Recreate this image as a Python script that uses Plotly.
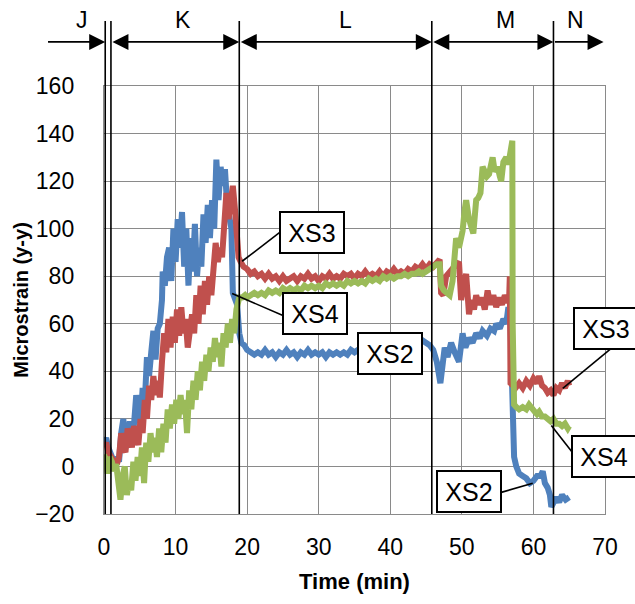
import plotly.graph_objects as go

# ---------------- data ----------------
t_xs2 = [0.0, 0.3, 0.6, 0.9, 1.2, 1.5, 1.8, 2.1, 2.4, 2.7, 3.0, 3.3, 3.6, 3.9, 4.2, 4.5, 4.8, 5.1, 5.4, 5.7,
         6.0, 6.3, 6.6, 6.9, 7.2, 7.5, 7.8, 8.1, 8.2, 8.5, 8.8, 9.1, 9.4, 9.7, 10.0, 10.3, 10.6, 10.9, 11.2, 11.5,
         11.8, 12.1, 12.4, 12.7, 13.0, 13.3, 13.6, 13.9, 14.2, 14.5, 14.8, 15.1, 15.4, 15.7, 16.0, 16.3, 16.6, 16.9,
         17.2, 17.5, 17.8, 18.0, 18.3, 18.6, 18.9, 19.2, 19.6,
         20.0, 20.5, 21.0, 21.5, 22.0, 22.5, 23.0, 23.5, 24.0, 24.5, 25.0, 25.5, 26.0, 26.5, 27.0, 27.5, 28.0, 28.5,
         29.0, 29.5, 30.0, 30.5, 31.0, 31.5, 32.0, 32.5, 33.0, 33.5, 34.0, 34.5, 35.0, 35.5, 36.0, 36.5, 37.0, 37.5,
         38.0, 38.5, 39.0, 39.5, 40.0, 40.5, 41.0, 41.5, 42.0, 42.5, 43.0, 43.5, 44.0, 44.5, 45.0, 45.5, 46.0,
         46.5, 47.0, 47.3, 47.6, 48.0, 48.5, 49.0, 49.6, 50.1, 50.5, 51.0, 51.5, 52.0, 52.5, 52.9, 53.5, 54.0, 54.5,
         54.8, 55.3, 55.8, 56.2, 56.5, 56.8, 57.0, 57.1, 57.3, 57.6, 58.0, 58.5, 59.0, 59.5, 60.0, 60.5, 61.0, 61.3,
         61.6, 62.0, 62.3, 62.5, 62.8, 63.2, 63.6, 64.0, 64.5, 65.0]
s_xs2 = [10, 12, 8, 6, 3, 1, 4, 2, 14, 20, 8, 10, 19, 12, 18, 30, 22, 18, 33, 27,
         46, 38, 48, 57, 45, 58, 60, 70, 82, 76, 88, 92, 78, 100, 86, 104, 92, 107, 84, 100,
         76, 96, 82, 102, 80, 92, 84, 106, 94, 110, 96, 112, 100, 129, 112, 126, 118, 125,
         110, 104, 100, 73, 71, 68, 56, 52, 51,
         49, 48, 47, 48, 47, 49, 47, 48, 46, 48, 47, 49, 47, 48, 46, 48, 47, 49,
         47, 48, 47, 48, 46, 48, 47, 48, 47, 48, 47, 49, 48, 49, 48, 50, 49, 50,
         49, 51, 50, 51, 50, 52, 51, 52, 51, 53, 52, 53, 52, 53, 52, 51, 49,
         44, 35, 43, 50, 46, 52, 48, 44, 56, 50, 54, 52, 56, 54, 57, 55, 58, 57,
         60, 58, 62, 60, 67, 60, 36, 8, 4, 0, -3, -4, -5, -7, -6, -4, -4, -2,
         -7, -9, -12, -17, -15, -13, -15, -12, -14, -13]

t_xs3 = [0.0, 0.3, 0.6, 0.9, 1.2, 1.5, 1.8, 2.1, 2.4, 2.7, 3.0, 3.3, 3.6, 3.9, 4.2, 4.5, 4.8, 5.1, 5.4, 5.7,
         6.0, 6.3, 6.6, 6.9, 7.2, 7.5, 7.8, 8.1, 8.4, 8.7, 9.0, 9.3, 9.6, 9.9, 10.2, 10.5, 10.8, 11.1, 11.4, 11.7,
         12.0, 12.3, 12.6, 12.9, 13.2, 13.5, 13.8, 14.1, 14.4, 14.7, 15.0, 15.3, 15.6, 15.9, 16.2, 16.5, 16.8, 17.1,
         17.4, 17.7, 18.0, 18.3, 18.5, 18.8, 19.1,
         19.5, 20.0, 20.5, 21.0, 21.5, 22.0, 22.5, 23.0, 23.5, 24.0, 24.5, 25.0, 25.5, 26.0, 26.5, 27.0, 27.5, 28.0,
         28.5, 29.0, 29.5, 30.0, 30.5, 31.0, 31.5, 32.0, 32.5, 33.0, 33.5, 34.0, 34.5, 35.0, 35.5, 36.0, 36.5, 37.0,
         37.5, 38.0, 38.5, 39.0, 39.5, 40.0, 40.5, 41.0, 41.5, 42.0, 42.5, 43.0, 43.5, 44.0, 44.5, 45.0, 45.5, 46.0,
         46.5, 46.9, 47.1, 47.4, 47.8, 48.3, 48.7, 49.2, 49.6, 49.9, 50.2, 50.6, 51.0, 51.3, 51.7, 52.0, 52.4, 52.8,
         53.2, 53.6, 54.0, 54.4, 54.8, 55.2, 55.6, 56.0, 56.4, 56.6, 56.7, 56.8, 57.5, 58.0, 58.5, 59.0, 59.5, 60.0,
         60.5, 60.8, 61.2, 61.6, 62.0, 62.4, 62.8, 63.2, 63.6, 64.0, 64.4, 64.8, 65.0]
s_xs3 = [8, 10, 6, 4, 3, 2, 1, 4, 14, 8, 6, 16, 10, 8, 17, 12, 9, 20, 14, 28,
         20, 34, 28, 38, 30, 36, 29, 44, 56, 48, 62, 50, 63, 52, 66, 55, 67, 56, 62, 50,
         58, 64, 56, 72, 60, 76, 64, 78, 68, 80, 72, 84, 94, 86, 92, 88, 106, 115,
         104, 112, 118, 108, 95, 88, 86,
         84, 83, 81, 82, 80, 81, 79, 81, 79, 80, 78, 80, 78, 79, 80, 78, 80, 79,
         81, 79, 80, 78, 80, 79, 81, 79, 80, 79, 81, 80, 81, 79, 81, 80, 82, 80,
         81, 80, 82, 80, 82, 81, 83, 81, 82, 81, 83, 82, 84, 83, 85, 83, 85, 84,
         86, 87, 73, 72, 80, 82, 84, 85, 86, 70, 76, 81, 64, 70, 66, 72, 68, 71,
         66, 74, 68, 72, 67, 71, 68, 72, 69, 70, 80, 35, 33, 35, 33, 36, 34, 37,
         35, 38, 34, 33, 31, 32, 30, 33, 32, 35, 33, 36, 34]

t_xs4 = [0.0, 0.3, 0.5, 0.8, 1.1, 1.4, 1.7, 2.0, 2.3, 2.6, 2.9, 3.2, 3.5, 3.8, 4.1, 4.4, 4.7, 5.0, 5.3, 5.6,
         5.9, 6.2, 6.5, 6.8, 7.1, 7.4, 7.7, 8.0, 8.3, 8.6, 8.9, 9.2, 9.5, 9.8, 10.1, 10.4, 10.7, 11.0, 11.3, 11.6,
         11.9, 12.2, 12.5, 12.8, 13.1, 13.4, 13.7, 14.0, 14.3, 14.6, 14.9, 15.2, 15.5, 15.8, 16.1, 16.4, 16.7, 17.0,
         17.3, 17.6, 17.9, 18.2, 18.5, 18.9, 19.3,
         19.7, 20.0, 20.5, 21.0, 21.5, 22.0, 22.5, 23.0, 23.5, 24.0, 24.5, 25.0, 25.5, 26.0, 26.5, 27.0, 27.5, 28.0,
         28.5, 29.0, 29.5, 30.0, 30.5, 31.0, 31.5, 32.0, 32.5, 33.0, 33.5, 34.0, 34.5, 35.0, 35.5, 36.0, 36.5, 37.0,
         37.5, 38.0, 38.5, 39.0, 39.5, 40.0, 40.5, 41.0, 41.5, 42.0, 42.5, 43.0, 43.5, 44.0, 44.5, 45.0, 45.5, 46.0,
         46.5, 46.9, 47.1, 47.5, 48.0, 48.3, 48.7, 49.0, 49.2, 49.6, 50.1, 50.4, 50.6, 51.0, 51.3, 51.6, 52.0, 52.3,
         52.6, 52.9, 53.2, 53.5, 53.8, 54.1, 54.3, 54.6, 55.0, 55.3, 55.5, 55.8, 56.2, 56.5, 56.8, 57.05, 57.1, 57.15,
         57.3, 57.6, 58.0, 58.5, 59.0, 59.4, 59.8, 60.2, 60.5, 60.8, 61.2, 61.6, 62.0, 62.4, 62.8, 63.2, 63.6, 64.0,
         64.4, 64.8, 65.0]
s_xs4 = [5, 2, -3, 4, 2, -2, 1, -8, -14, -4, 0, -12, -6, -10, 2, -6, 4, -4, 8, -7,
         10, 2, 14, 6, 12, 4, 16, 6, 18, 10, 24, 16, 26, 18, 28, 20, 30, 22, 28, 14,
         32, 24, 36, 28, 40, 32, 44, 36, 47, 40, 50, 44, 54, 46, 52, 42, 56, 50,
         60, 52, 62, 56, 66, 71, 71,
         72, 71, 72, 73, 72, 73, 72, 74, 73, 74, 73, 75, 74, 75, 74, 75, 74, 76,
         75, 76, 75, 76, 75, 77, 76, 77, 76, 77, 76, 78, 77, 78, 77, 78, 77, 79,
         78, 79, 78, 80, 79, 80, 79, 80, 80, 81, 80, 81, 81, 82, 81, 82, 83, 84,
         85, 85, 76, 74, 73, 72, 78, 88, 96, 92, 99, 108, 112, 104, 100, 98, 112, 113,
         115, 126, 124, 122, 123, 128, 130, 124, 126, 122, 120, 128, 130, 127, 132, 137, 60, 30,
         26, 25, 24, 25, 24, 26, 24, 23, 22, 23, 21, 21, 20, 19, 20, 18, 18, 17,
         18, 16, 17]

phase_bounds = [0.17, 0.97, 18.9, 45.8, 62.8]
phase_labels = ["J", "K", "L", "M", "N"]
phase_label_t = [-3.1, 11.1, 33.7, 56.1, 65.85]

series_names = ["XS2", "XS3", "XS4"]
series_colors = ["#4F81BD", "#C0504D", "#9BBB59"]

# ---------------- layout geometry ----------------
W, H = 635, 604
ML, MR, MT, MB = 104, 30, 86, 90
PW, PH = W - ML - MR, H - MT - MB
X0, X1 = 0, 70
Y0, Y1 = -20, 160
FONT = "Liberation Sans, Arial, sans-serif"


def xp(t):
    return (t - X0) / (X1 - X0)


def yp(v):
    return (v - Y0) / (Y1 - Y0)


fig = go.Figure()
for t, s, name, col in zip([t_xs2, t_xs3, t_xs4], [s_xs2, s_xs3, s_xs4], series_names, series_colors):
    fig.add_trace(go.Scatter(x=t, y=s, mode="lines", name=name,
                             line=dict(color=col, width=6), showlegend=False))

shapes = []
annotations = []

# phase boundary lines (extend above plot)
top_line = 1.152
arrow_y = 1.103
for b in phase_bounds:
    shapes.append(dict(type="line", xref="paper", yref="paper", x0=xp(b), x1=xp(b), y0=0, y1=top_line,
                       line=dict(color="black", width=1.6), layer="above"))

pxmin = PW / (X1 - X0)
# arrows
arrow_specs = [(-8.03, phase_bounds[0], False),
               (phase_bounds[1], phase_bounds[2], True),
               (phase_bounds[2], phase_bounds[3], True),
               (phase_bounds[3], phase_bounds[4], True),
               (phase_bounds[4], 69.8, False)]
for a, b, both in arrow_specs:
    annotations.append(dict(xref="paper", yref="paper", x=xp(b), y=arrow_y, text="",
                            showarrow=True, axref="pixel", ayref="pixel", ax=(a - b) * pxmin, ay=0,
                            arrowhead=2, arrowsize=2.0, arrowwidth=1.6, arrowcolor="black",
                            arrowside="end+start" if both else "end",
                            startarrowhead=2, startarrowsize=2.0, standoff=0, startstandoff=0))

for lab, lt in zip(phase_labels, phase_label_t):
    annotations.append(dict(xref="paper", yref="paper", x=xp(lt), y=1.155, text=lab, showarrow=False,
                            font=dict(family=FONT, size=23, color="black"), xanchor="center", yanchor="middle"))

# label boxes: (text, box centre t, box centre value, leader from (t,v), leader to (t,v))
boxes = [("XS3", 29.0, 98.2, (24.6, 98.5), (19.3, 86.3)),
         ("XS4", 29.5, 64.5, (25.0, 63.5), (17.9, 72.7)),
         ("XS2", 39.9, 47.5, None, None),
         ("XS3", 70.1, 58.2, (71.0, 50.0), (64.1, 32.8)),
         ("XS4", 69.9, 4.0, (66.0, 3.8), (62.5, 17.2)),
         ("XS2", 50.96, -10.7, (55.5, -10.9), (59.9, -7.1))]
for txt, bt, bv, l0, l1 in boxes:
    if l0 is not None:
        shapes.append(dict(type="line", xref="paper", yref="paper", x0=xp(l0[0]), y0=yp(l0[1]),
                           x1=xp(l1[0]), y1=yp(l1[1]), line=dict(color="black", width=1.6), layer="above"))
    annotations.append(dict(xref="paper", yref="paper", x=xp(bt), y=yp(bv), text=txt, showarrow=False,
                            font=dict(family=FONT, size=25, color="black"), bgcolor="white",
                            bordercolor="black", borderwidth=2, borderpad=1, width=60, height=37,
                            xanchor="center", yanchor="middle"))

grid = "#8a8a8a"
fig.update_layout(
    width=W, height=H, margin=dict(l=ML, r=MR, t=MT, b=MB),
    paper_bgcolor="white", plot_bgcolor="white",
    font=dict(family=FONT, size=23, color="black"),
    shapes=shapes, annotations=annotations,
    xaxis=dict(range=[X0, X1], dtick=10, tick0=0, showgrid=True, gridcolor=grid, gridwidth=1.4,
               zeroline=False, showline=True, linecolor=grid, linewidth=1.4, mirror=True,
               ticks="", ticklabelstandoff=12,
               title=dict(text="<b>Time (min)</b>", font=dict(family=FONT, size=22), standoff=14)),
    yaxis=dict(range=[Y0, Y1], dtick=20, tick0=0, showgrid=True, gridcolor=grid, gridwidth=1.4,
               zeroline=False, showline=True, linecolor=grid, linewidth=1.4, mirror=True,
               ticks="", ticklabelstandoff=24,
               title=dict(text="<b>Microstrain (y-y)</b>", font=dict(family=FONT, size=20), standoff=1)),
)

fig.write_html("out.html")
